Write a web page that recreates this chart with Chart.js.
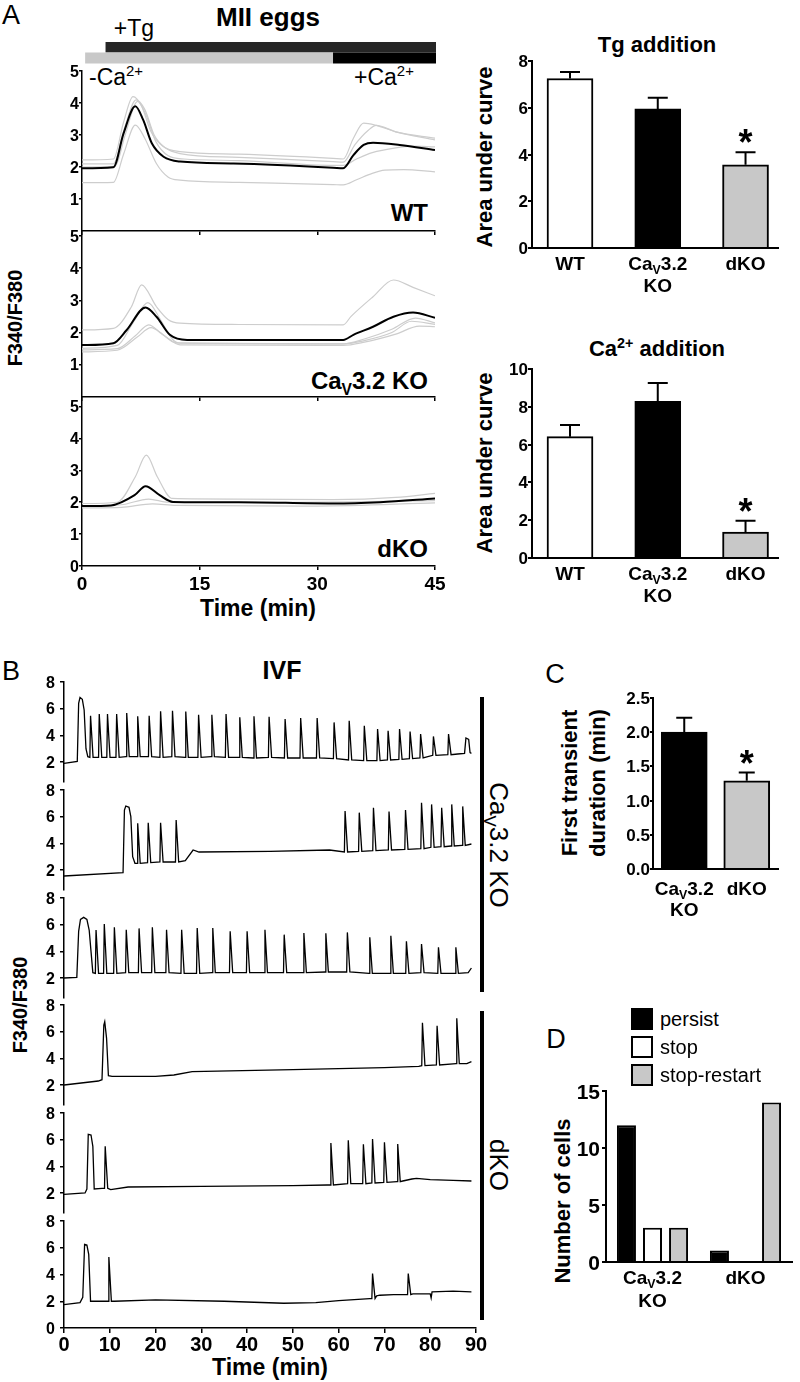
<!DOCTYPE html>
<html>
<head>
<meta charset="utf-8">
<title>MII eggs / IVF calcium traces</title>
<script src="https://cdn.jsdelivr.net/npm/chart.js@4.4.1/dist/chart.umd.min.js"></script>
<style>
  html, body { margin: 0; padding: 0; background: #fff; }
  #fig { position: relative; width: 800px; height: 1382px; overflow: hidden;
         font-family: "Liberation Sans", Arial, Helvetica, sans-serif; color: #000; }
  #fig canvas { position: absolute; }
  .t  { position: absolute; white-space: nowrap; line-height: 1; transform: translate(-50%, -50%); }
  .b  { font-weight: bold; }
  .rl { transform: translate(-50%, -50%) rotate(-90deg); }
  .rr { transform: translate(-50%, -50%) rotate(90deg); }
  .ra { transform: translate(-100%, -50%); }
  .la { transform: translate(0, -50%); }
  sub, sup { font-size: 65%; line-height: 0; }
  .vbar { position: absolute; background: #000; width: 4px; }
  .leg { position: absolute; left: 631px; height: 22px; font-size: 20px; line-height: 22px;
         display: flex; align-items: center; white-space: nowrap; }
  .leg span { display: inline-block; width: 18px; height: 18px; border: 2px solid #000; margin-right: 7px; }
</style>
</head>
<body>
<div id="fig">
  <!-- panel A -->
  <div class="t" style="left:11px;top:15px;font-size:27px">A</div>
  <div class="t b" style="left:268px;top:17px;font-size:26px">MII eggs</div>
  <div class="t" style="left:134px;top:28px;font-size:23px">+Tg</div>
  <div class="t la" style="left:89px;top:77px;font-size:23px">-Ca<sup>2+</sup></div>
  <div class="t la" style="left:354px;top:77px;font-size:23px">+Ca<sup>2+</sup></div>
  <div class="t b ra" style="left:428px;top:213px;font-size:24px">WT</div>
  <div class="t b ra" style="left:428px;top:381px;font-size:24px">Ca<sub>V</sub>3.2 KO</div>
  <div class="t b ra" style="left:428px;top:549px;font-size:24px">dKO</div>
  <div class="t b rl" style="left:15px;top:318px;font-size:20px">F340/F380</div>
  <div class="t b" style="left:258px;top:608px;font-size:23px">Time (min)</div>
  <div class="t b" style="left:657px;top:45px;font-size:22px">Tg addition</div>
  <div class="t b rl" style="left:485px;top:157px;font-size:22px">Area under curve</div>
  <div class="t b" style="left:657px;top:349px;font-size:22px">Ca<sup>2+</sup> addition</div>
  <div class="t b rl" style="left:485px;top:463px;font-size:22px">Area under curve</div>
  <!-- panel B -->
  <div class="t" style="left:11px;top:671px;font-size:27px">B</div>
  <div class="t b" style="left:282px;top:670px;font-size:25px">IVF</div>
  <div class="t b rl" style="left:20px;top:1005px;font-size:20px">F340/F380</div>
  <div class="t b" style="left:270px;top:1367px;font-size:23px">Time (min)</div>
  <div class="vbar" style="left:480px;top:697px;height:295px"></div>
  <div class="vbar" style="left:480px;top:1011px;height:309px"></div>
  <div class="t rr" style="left:499px;top:845px;font-size:26px">Ca<sub>V</sub>3.2 KO</div>
  <div class="t rr" style="left:499px;top:1165px;font-size:26px">dKO</div>
  <!-- panel C -->
  <div class="t" style="left:555px;top:674px;font-size:27px">C</div>
  <div class="t b rl" style="left:584px;top:783px;font-size:22px;line-height:28px;text-align:center">First transient<br>duration (min)</div>
  <!-- panel D -->
  <div class="t" style="left:556px;top:1039px;font-size:27px">D</div>
  <div class="t b rl" style="left:563px;top:1201px;font-size:22px">Number of cells</div>
</div>

<script>
/* ── Data: panel A traces (time min, F340/F380) ── */
var tgStart = 3, caStart = 32, noCaStart = 0.4, recEnd = 45;

var wtMean = [[0,1.96],[4,1.99],[5.3,3.05],[6.8,3.9],[7.8,3.47],[8.9,2.74],[10.4,2.32],[12.5,2.17],[19.3,2.11],[32,1.98],[33.3,1.96],[34.6,2.37],[35.9,2.69],[37.1,2.76],[40.5,2.69],[45,2.53]];
var wtCells = [
  [[0,2.22],[4,2.25],[5.3,3.4],[6.5,4.2],[7.6,3.9],[8.8,3.1],[10.3,2.65],[12.5,2.48],[20,2.4],[32,2.27],[33.3,2.25],[34.6,2.9],[35.9,3.37],[37.5,3.3],[40,3.1],[45,2.9]],
  [[0,2.1],[4,2.1],[5.4,3.2],[6.9,4.1],[8,3.8],[9.2,3.0],[10.6,2.6],[12.5,2.42],[20,2.3],[32,2.17],[33.3,2.15],[34.8,2.7],[36.5,3.15],[37.5,3.3],[40,3.1],[45,2.85]],
  [[0,2.0],[4.2,2.02],[5.5,3.0],[7.1,4.05],[8.2,3.6],[9.4,2.8],[11,2.35],[13,2.25],[20,2.2],[32,2.05],[33.3,2.05],[35,2.25],[37,2.45],[40,2.6],[42,2.65],[45,2.63]],
  [[0,1.51],[4,1.52],[5.3,2.4],[6.8,3.31],[8,2.9],[9.5,2.1],[11,1.68],[12.5,1.59],[20,1.52],[32,1.45],[33.3,1.44],[35,1.6],[37,1.8],[38.6,1.9],[41,1.92],[45,1.85]]
];
var cavMean = [[0,1.61],[4,1.67],[5.7,2.08],[8.1,2.78],[9.5,2.49],[11.2,1.93],[13.4,1.77],[33.3,1.77],[34.6,1.93],[37.1,2.18],[39.7,2.49],[42.2,2.62],[45,2.46]];
var cavCells = [
  [[0,2.08],[4,2.13],[6.3,2.8],[7.6,3.48],[9.5,2.8],[11,2.4],[12.5,2.29],[20,2.25],[33.3,2.24],[34.3,2.5],[37.1,3.11],[39.7,3.63],[42.2,3.4],[45,3.14]],
  [[0,1.51],[4.5,1.6],[6.5,2.3],[8.4,2.93],[10,2.4],[11.5,1.8],[12.5,1.67],[33.3,1.65],[36,1.8],[39.5,2.1],[42.5,2.45],[45,2.3]],
  [[0,1.46],[4.5,1.5],[6.8,1.9],[8.5,2.24],[10,2.0],[12,1.68],[33.3,1.65],[36,1.75],[39.5,2.0],[42,2.35],[45,2.25]],
  [[0,1.4],[4.5,1.45],[7,1.85],[8.8,2.15],[10.5,1.9],[12.5,1.62],[33.3,1.6],[36,1.7],[40,1.95],[43,2.2],[45,2.18]]
];
var dkoMean = [[0,1.88],[3.7,1.9],[6.7,2.22],[8.1,2.5],[9.9,2.22],[11.6,2.01],[20,2.0],[32,1.96],[38,2.0],[45,2.12]];
var dkoCells = [
  [[0,1.96],[4.5,2.0],[6.8,2.8],[8.2,3.48],[9.6,2.8],[11.5,2.12],[20,2.1],[32,2.08],[40,2.15],[45,2.28]],
  [[0,1.88],[5,1.92],[8.5,2.1],[11,2.0],[25,2.0],[45,2.05]],
  [[0,1.82],[5,1.84],[9,1.95],[12,1.9],[30,1.88],[45,1.98]]
];
var aTicksX = [0, 15, 30, 45];
var aTicksY = [1, 2, 3, 4, 5];
var aTicksYBottom = [0, 1, 2, 3, 4, 5];

/* ── Data: panel A bars ── */
var aGroups = ['WT', ['Ca{V}3.2', 'KO'], 'dKO'];
var tgMean = [7.25, 5.95, 3.56];
var tgSem = [0.28, 0.48, 0.54];
var caMean = [6.42, 8.29, 1.37];
var caSem = [0.62, 0.97, 0.6];
var aStars = ['', '', '*'];
var tgTicks = [0, 2, 4, 6, 8];
var caTicks = [0, 2, 4, 6, 8, 10];

/* ── Data: panel B traces, rows are [t, y] or spikes [t, peak, base] ── */
var b1 = [[0,1.9],[2.9,2.05],[3.2,6.4],[3.5,6.85],[4.0,6.7],[4.4,5.9],[4.8,3.0],[5.2,2.4],
  [5.8,5.47,2.35],[7.7,5.6,2.35],[9.5,5.6,2.35],[11.5,5.6,2.35],[13.7,5.68,2.4],[16.1,5.43,2.4],[18.6,5.47,2.4],
  [21.1,5.8,2.35],[23.7,5.85,2.4],[26.6,5.78,2.35],[29.4,5.55,2.35],[32.3,5.55,2.4],[35.4,5.6,2.35],[38.4,5.35,2.35],
  [41.5,5.43,2.3],[44.8,5.4,2.35],[48.3,5.23,2.3],[51.7,5.3,2.3],[55.3,5.3,2.3],[59.0,4.97,2.25],[62.3,5.1,2.15],
  [65.6,4.72,2.1],[68.5,4.47,2.1],[70.8,4.34,2.15],[73.3,4.47,2.2],[75.6,4.29,2.25],[77.9,4.09,2.3],[80.7,3.92,2.5],
  [84.0,4.09,2.55],[86,2.6],[87.5,2.65],[87.8,3.8],[88.4,3.7],[88.7,2.7],[89,2.65]];
var b2 = [[0,1.55],[12.9,1.8],[13.2,6.5],[13.5,6.8],[14.2,6.7],[14.6,6.0],[15.0,3.0],[15.5,2.5],
  [16.1,5.5,2.5],[18.4,5.55,2.55],[21.1,5.55,2.6],[24.5,5.75,2.6],
  [26.5,2.7],[28.2,3.5],[29.5,3.35],[45,3.4],[58,3.5],
  [61.4,6.42,3.35],[64.5,6.3,3.4],[67.6,6.67,3.45],[71.0,6.38,3.5],[74.6,6.5,3.55],[78.1,7.05,3.6],
  [80.3,6.92,3.7],[82.5,6.67,3.75],[84.7,6.92,3.8],[87.1,6.77,3.85],[89,3.95]];
var b3 = [[0,2.0],[2.8,2.05],[3.2,5.5],[3.6,6.4],[4.3,6.55],[5.0,6.4],[5.5,5.6],[5.9,4.0],[6.3,2.4],
  [7.0,5.6,2.35],[8.8,6.05,2.35],[11.0,5.8,2.35],[13.6,5.62,2.4],[16.4,5.72,2.4],[19.3,5.8,2.4],[22.4,5.62,2.4],
  [25.7,5.62,2.35],[29.1,5.75,2.35],[32.5,5.75,2.4],[36.3,5.5,2.4],[40.0,5.5,2.4],[43.9,5.62,2.4],[48.1,5.25,2.4],
  [52.4,5.37,2.4],[57.2,5.35,2.45],[61.9,5.42,2.45],[66.8,5.05,2.35],[71.4,5.17,2.35],[74.8,4.75,2.35],
  [78.1,4.55,2.4],[81.8,4.3,2.35],[85.6,4.3,2.35],[88.3,2.4],[89,2.75]];
var b4 = [[0,2.0],[7.5,2.3],[8.3,2.4],[8.7,6.5],[8.9,6.75],[9.3,5.5],[9.7,2.7],
  [10.5,2.65],[20,2.65],[24,2.75],[28,3.0],[50,3.15],[70,3.3],[77.5,3.4],
  [78.3,6.67,3.45],[81.5,6.45,3.5],[85.8,7.0,3.6],[88,3.6],[89,3.75]];
var b5 = [[0,1.9],[4.6,2.0],[5.0,2.3],[5.3,6.4],[5.9,6.35],[6.3,5.5],[6.6,2.3],[8.3,2.35],
  [9.0,5.5,2.35],[10.2,2.25],[14,2.45],[30,2.5],[50,2.55],[57.5,2.6],
  [58.3,5.75,2.6],[62.1,5.95,2.7],[65.4,5.65,2.7],[67.4,6.05,2.75],[70.0,5.8,2.8],[72.9,5.68,2.85],
  [74,2.9],[76,3.05],[77,3.1],[80,3.0],[85,2.95],[89,2.9]];
var b6 = [[0,1.75],[3.5,1.9],[4.1,2.3],[4.5,6.25],[5.0,6.2],[5.4,5.5],[5.8,2.0],[9.3,2.0],
  [9.8,5.3,2.0],[11,2.0],[20,2.1],[35,2.0],[48,1.85],[55,1.9],[60,2.05],[66.8,2.2],
  [67.4,4.07,2.2],[68.3,2.4],[69,2.45],[72,2.5],[74.5,2.5],
  [75.2,4.07,2.5],[76.2,2.55],[80,2.55],[80.2,2.25],[80.4,2.7],[85,2.75],[89,2.7]];
var bTicksX = [0, 10, 20, 30, 40, 50, 60, 70, 80, 90];
var bTicksY = [2, 4, 6, 8];
var bTicksYBottom = [0, 2, 4, 6, 8];

/* ── Data: panels C and D ── */
var cGroups = [['Ca{V}3.2', 'KO'], 'dKO'];
var cMean = [2.0, 1.29];
var cSem = [0.21, 0.12];
var cStars = ['', '*'];
var cTicks = [0, 0.5, 1, 1.5, 2, 2.5];

var dGroups = [['Ca{V}3.2', 'KO'], 'dKO'];
var dSeries = ['persist', 'stop', 'stop-restart'];
var dPersist = [12, 1];
var dStop = [3, 0];
var dStopRestart = [3, 14];
var dTicks = [0, 5, 10, 15];

var barFills = ['#ffffff', '#000000', '#c8c8c8'];
var cFills = ['#000000', '#c8c8c8'];
var dFills = ['#000000', '#ffffff', '#c8c8c8'];

/* ── Chart defaults ── */
var FONT = '"Liberation Sans", Arial, Helvetica, sans-serif';
Chart.defaults.font.family = FONT;
Chart.defaults.color = '#000';
Chart.defaults.animation = false;
Chart.defaults.events = [];
Chart.defaults.plugins.legend.display = false;
Chart.defaults.plugins.tooltip.enabled = false;

/* ── Helpers ── */
function pts(rows) {
  return rows.map(function(r) { return {x: r[0], y: r[1]}; });
}

// spikes [t, peak, base] become a rise and a fall
function expand(rows) {
  var out = [];
  rows.forEach(function(r) {
    if (r.length === 3) {
      out.push({x: r[0] - 0.15, y: r[2]}, {x: r[0], y: r[1]}, {x: r[0] + 0.55, y: r[2]});
    } else {
      out.push({x: r[0], y: r[1]});
    }
  });
  return out;
}

// "Ca{V}3.2" -> subscript V, "Ca[2+]" -> superscript
function drawRich(ctx, s, x, y, size, weight) {
  var parts = [], re = /\{([^}]*)\}|\[([^\]]*)\]|([^{\[]+)/g, m, w = 0;
  while ((m = re.exec(s))) {
    if (m[1] !== undefined) parts.push({t: m[1], k: 'sub'});
    else if (m[2] !== undefined) parts.push({t: m[2], k: 'sup'});
    else parts.push({t: m[3], k: ''});
  }
  parts.forEach(function(p) {
    p.size = p.k ? size * 0.65 : size;
    ctx.font = weight + ' ' + p.size + 'px ' + FONT;
    p.w = ctx.measureText(p.t).width;
    w += p.w;
  });
  var cx = x - w / 2;
  ctx.textAlign = 'left';
  ctx.textBaseline = 'middle';
  parts.forEach(function(p) {
    ctx.font = weight + ' ' + p.size + 'px ' + FONT;
    var dy = p.k === 'sub' ? size * 0.28 : (p.k === 'sup' ? -size * 0.3 : 0);
    ctx.fillText(p.t, cx, y + dy);
    cx += p.w;
  });
}

// tick marks and border come from Chart.js; labels are drawn by the axisLabels plugin
function yAxis(min, max, ticks, tl, bw) {
  return {
    min: min, max: max,
    afterBuildTicks: function(s) { s.ticks = ticks.map(function(v) { return {value: v}; }); },
    ticks: {display: false},
    grid: {display: true, drawOnChartArea: false, drawTicks: true, tickLength: tl, color: '#000', lineWidth: bw},
    border: {display: true, color: '#000', width: bw}
  };
}

function xLinear(min, max, ticks, tl, bw) {
  return {
    type: 'linear', min: min, max: max,
    afterBuildTicks: function(s) { s.ticks = ticks.map(function(v) { return {value: v}; }); },
    ticks: {display: false},
    grid: {display: true, drawOnChartArea: false, drawTicks: true, tickLength: tl, color: '#000', lineWidth: bw},
    border: {display: true, color: '#000', width: bw}
  };
}

// place a chart so that its plot area lands on box l,t,r,b of the page
function build(box, cfg) {
  var cv = document.createElement('canvas');
  document.getElementById('fig').appendChild(cv);
  var W = Math.round(box.r - box.l + box.yW + box.pl + box.pr);
  var H = Math.round(box.b - box.t + box.xH + box.pt + box.pb);
  cv.width = W; cv.height = H;
  cv.style.left = (box.l - box.yW - box.pl) + 'px';
  cv.style.top = (box.t - box.pt) + 'px';
  cv.style.width = W + 'px';
  cv.style.height = H + 'px';
  var o = cfg.options;
  o.responsive = false;
  o.maintainAspectRatio = false;
  o.layout = {padding: {left: box.pl, top: box.pt, right: box.pr, bottom: box.pb}};
  o.scales.y.afterFit = function(s) { s.width = box.yW; };
  o.scales.x.afterFit = function(s) { s.height = box.xH; };
  cfg.plugins = (cfg.plugins || []).concat([axisLabels]);
  return new Chart(cv, cfg);
}

/* ── Plugins ── */
var axisLabels = {
  id: 'axislabels',
  afterDraw: function(chart, args, o) {
    var ctx = chart.ctx, area = chart.chartArea;
    ctx.save();
    ctx.fillStyle = '#000';
    if (o && o.y) {
      var ys = chart.scales.y, fy = o.y.fmt || String;
      ctx.font = 'bold ' + o.y.size + 'px ' + FONT;
      ctx.textAlign = 'right';
      ctx.textBaseline = 'alphabetic';
      ys.ticks.forEach(function(t) {
        ctx.fillText(fy(t.value), area.left - o.y.gap, ys.getPixelForValue(t.value) + o.y.size * 0.358);
      });
    }
    if (o && o.x) {
      var xs = chart.scales.x, fx = o.x.fmt || String;
      ctx.font = 'bold ' + o.x.size + 'px ' + FONT;
      ctx.textAlign = 'center';
      ctx.textBaseline = 'alphabetic';
      xs.ticks.forEach(function(t) {
        ctx.fillText(fx(t.value), xs.getPixelForValue(t.value), area.bottom + o.x.gap + o.x.size * 0.716);
      });
    }
    ctx.restore();
  }
};

var applyBars = {
  id: 'applybars',
  afterDraw: function(chart) {
    var x = chart.scales.x, top = chart.chartArea.top, ctx = chart.ctx;
    var px = function(v) { return x.getPixelForValue(v); };
    ctx.save();
    ctx.fillStyle = '#262626';
    ctx.fillRect(px(tgStart), top - 29, px(recEnd) - px(tgStart) + 1, 10.5);
    ctx.fillStyle = '#c8c8c8';
    ctx.fillRect(px(noCaStart), top - 18.5, px(caStart) - px(noCaStart), 11);
    ctx.fillStyle = '#000';
    ctx.fillRect(px(caStart), top - 18.5, px(recEnd) - px(caStart) + 1, 11);
    ctx.restore();
  }
};

var errorBars = {
  id: 'errbars',
  afterDatasetsDraw: function(chart, args, o) {
    if (!o || !o.errs) return;
    var ctx = chart.ctx, y = chart.scales.y, meta = chart.getDatasetMeta(0);
    var data = chart.data.datasets[0].data;
    ctx.save();
    ctx.strokeStyle = '#000';
    ctx.fillStyle = '#000';
    ctx.lineWidth = 2;
    meta.data.forEach(function(bar, i) {
      var v = typeof data[i] === 'object' ? data[i].y : data[i];
      var top = y.getPixelForValue(v + o.errs[i]);
      ctx.beginPath();
      ctx.moveTo(bar.x, bar.y);
      ctx.lineTo(bar.x, top);
      ctx.moveTo(bar.x - o.cap, top);
      ctx.lineTo(bar.x + o.cap, top);
      ctx.stroke();
      if (o.stars && o.stars[i]) {
        ctx.font = 'bold 36px ' + FONT;
        ctx.textAlign = 'center';
        ctx.textBaseline = 'alphabetic';
        var mt = ctx.measureText(o.stars[i]);
        ctx.fillText(o.stars[i], bar.x, top - 9 - mt.actualBoundingBoxDescent);
      }
    });
    ctx.restore();
  }
};

var catLabels = {
  id: 'catlabels',
  afterDraw: function(chart, args, o) {
    if (!o || !o.labels) return;
    var ctx = chart.ctx, xs = chart.scales.x, base = chart.chartArea.bottom;
    ctx.save();
    ctx.fillStyle = '#000';
    o.labels.forEach(function(lab, i) {
      var lines = Array.isArray(lab) ? lab : [lab];
      lines.forEach(function(s, j) {
        drawRich(ctx, s, xs.getPixelForValue(i), base + o.dy + j * o.gap, o.size, 'bold');
      });
    });
    ctx.restore();
  }
};

/* ── Panel A: traces ── */
function traceSets(mean, cells) {
  var sets = [{data: pts(mean), borderColor: '#000', borderWidth: 2, order: 0}];
  cells.forEach(function(c) {
    sets.push({data: pts(c), borderColor: '#cdcdcd', borderWidth: 1.2, order: 1});
  });
  sets.forEach(function(s) {
    s.pointRadius = 0;
    s.cubicInterpolationMode = 'monotone';
    s.fill = false;
  });
  return sets;
}

var aPanels = [
  {mean: wtMean, cells: wtCells, t: 71, b: 231, max: 5, ticks: aTicksY},
  {mean: cavMean, cells: cavCells, t: 231, b: 397, max: 5.15, ticks: aTicksY},
  {mean: dkoMean, cells: dkoCells, t: 397, b: 566, max: 5.3, ticks: aTicksYBottom}
];
aPanels.forEach(function(p, i) {
  var last = i === aPanels.length - 1;
  build({l: 82, r: 435, t: p.t, b: p.b, yW: 26, xH: last ? 30 : 4, pl: 4, pt: i === 0 ? 41 : 10, pr: 14, pb: last ? 4 : 8}, {
    type: 'line',
    data: {datasets: traceSets(p.mean, p.cells)},
    options: {
      scales: {
        x: xLinear(0, 45, aTicksX, 4, 1.5),
        y: yAxis(0, p.max, p.ticks, 3, 1.5)
      },
      plugins: {axislabels: {y: {size: 16, gap: 3}, x: last ? {size: 19, gap: 10} : null}}
    },
    plugins: i === 0 ? [applyBars] : []
  });
});

/* ── Panel A: area-under-curve bars ── */
function aucChart(top, bottom, means, sems, ticks, max) {
  build({l: 532, r: 778, t: top, b: bottom, yW: 32, xH: 2, pl: 2, pt: 12, pr: 8, pb: 56}, {
    type: 'bar',
    data: {datasets: [{
      data: means.map(function(v, i) { return {x: i, y: v}; }),
      backgroundColor: barFills, borderColor: '#000', borderWidth: 2, barThickness: 46
    }]},
    options: {
      scales: {
        x: {type: 'linear', min: -0.433, max: 2.37, offset: false,
            ticks: {display: false}, grid: {display: false},
            border: {display: true, color: '#000', width: 2}},
        y: yAxis(0, max, ticks, 4, 2)
      },
      plugins: {
        axislabels: {y: {size: 17, gap: 4}},
        errbars: {errs: sems, stars: aStars, cap: 10},
        catlabels: {labels: aGroups, dy: 17, gap: 22, size: 19}
      }
    },
    plugins: [errorBars, catLabels]
  });
}
aucChart(61, 248, tgMean, tgSem, tgTicks, 8);
aucChart(369, 558, caMean, caSem, caTicks, 10);

/* ── Panel B: IVF traces ── */
var bRows = [b1, b2, b3, b4, b5, b6];
bRows.forEach(function(rows, i) {
  var last = i === bRows.length - 1;
  var top = 682 + i * 107.8;
  build({l: 64, r: 476, t: top, b: last ? top + 107 : top + 100, yW: 28, xH: last ? 34 : 0,
         pl: 20, pt: 10, pr: 14, pb: last ? 4 : 10}, {
    type: 'line',
    data: {datasets: [{data: expand(rows), borderColor: '#000', borderWidth: 1.3, pointRadius: 0, tension: 0}]},
    options: {
      scales: {
        x: last ? xLinear(0, 90, bTicksX, 5, 1.5) : {type: 'linear', min: 0, max: 90, display: false},
        y: yAxis(last ? 0 : 0.5, 8, last ? bTicksYBottom : bTicksY, 4, 1.5)
      },
      plugins: {axislabels: {y: {size: 16, gap: 9}, x: last ? {size: 20, gap: 9} : null}}
    }
  });
});

/* ── Panel C: first transient duration ── */
build({l: 653, r: 778, t: 698, b: 869, yW: 40, xH: 2, pl: 2, pt: 12, pr: 8, pb: 55}, {
  type: 'bar',
  data: {labels: ['CaV3.2 KO', 'dKO'], datasets: [{
    data: cMean, backgroundColor: cFills, borderColor: '#000', borderWidth: 2, barThickness: 46
  }]},
  options: {
    scales: {
      x: {ticks: {display: false}, grid: {display: false}, border: {display: true, color: '#000', width: 2}},
      y: yAxis(0, 2.5, cTicks, 3, 2)
    },
    plugins: {
      axislabels: {y: {size: 17, gap: 3, fmt: function(v) { return v.toFixed(1); }}},
      errbars: {errs: cSem, stars: cStars, cap: 8},
      catlabels: {labels: cGroups, dy: 21, gap: 21, size: 19}
    }
  },
  plugins: [errorBars, catLabels]
});

/* ── Panel D: oscillation pattern counts ── */
var dValues = [dPersist, dStop, dStopRestart];
build({l: 606, r: 792, t: 1091, b: 1262, yW: 30, xH: 2, pl: 2, pt: 12, pr: 6, pb: 55}, {
  type: 'bar',
  data: {labels: ['CaV3.2 KO', 'dKO'], datasets: dSeries.map(function(name, i) {
    return {label: name, data: dValues[i], backgroundColor: dFills[i], borderColor: '#000', borderWidth: 2,
            categoryPercentage: 0.84, barPercentage: 0.73};
  })},
  options: {
    scales: {
      x: {ticks: {display: false}, grid: {display: false}, border: {display: true, color: '#000', width: 2}},
      y: yAxis(0, 15, dTicks, 4, 2)
    },
    plugins: {
      axislabels: {y: {size: 21, gap: 6}},
      catlabels: {labels: dGroups, dy: 17, gap: 23, size: 19}
    }
  },
  plugins: [catLabels]
});

// legend for D
dSeries.forEach(function(name, i) {
  var row = document.createElement('div');
  row.className = 'leg';
  row.style.top = (1008 + i * 28) + 'px';
  row.innerHTML = '<span style="background:' + dFills[i] + '"></span>' + name;
  document.getElementById('fig').appendChild(row);
});
</script>
</body>
</html>
